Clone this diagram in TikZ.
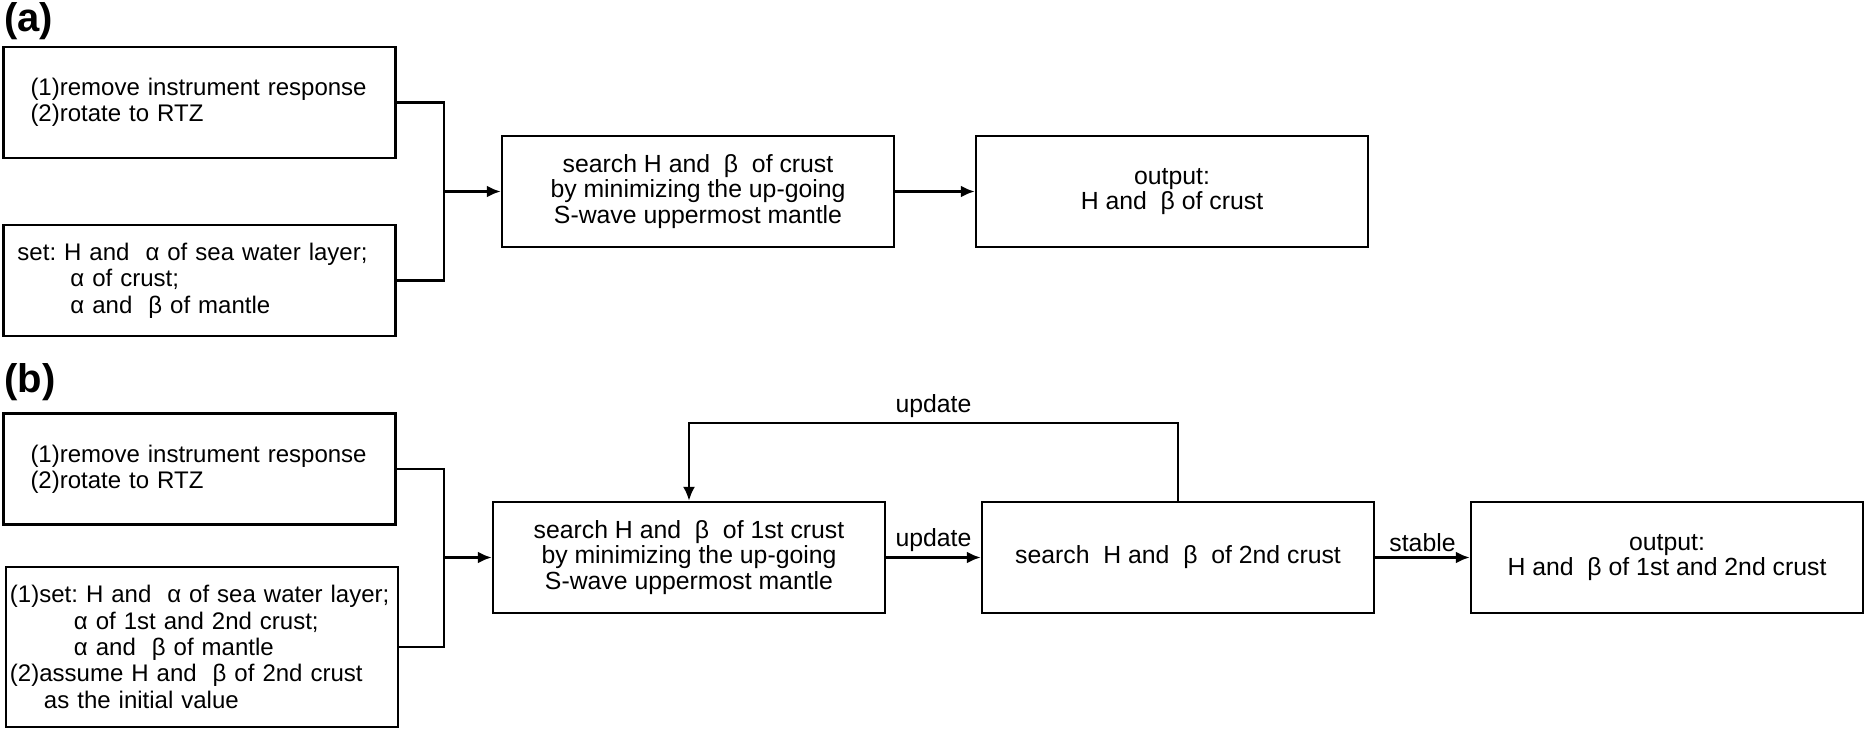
\documentclass[tikz,border=0pt]{standalone}
\usepackage{fontspec}
\setmainfont{Liberation Sans}
\usetikzlibrary{arrows.meta}
\frenchspacing

\begin{document}
\begin{tikzpicture}[x=0.5pt,y=-0.5pt,>={Latex[length=7pt,width=6pt]},
box/.style = {draw, line width=1.2pt, minimum width=196pt, minimum height=55.5pt, inner ysep=0pt, font=\fontsize{12}{13.2}\selectfont},
leftbox/.style = {box, align=left, inner xsep=13.5pt, text width=169pt},
midbox/.style = {box, align=center, font=\fontsize{12.4}{12.8}\selectfont},
flow/.style = {->, line width=1.5pt},
branch/.style = {line width=1.2pt},
tag/.style = {font=\fontsize{12.4}{13}\selectfont, inner sep=2pt},
panel/.style = {font=\fontsize{20}{20}\bfseries\selectfont, inner sep=0pt, anchor=north west},]
\useasboundingbox (0,0) rectangle (1867,731);
% (a)
\node[panel] (pa) at (4,2) {(a)};
\node[leftbox] (a1) at (199.5,102.5) {(1)remove instrument response\\(2)rotate to RTZ};
\node[leftbox, inner xsep=7pt, text width=182pt] (a2) at (199.5,280.5) {set: H and\ \ α of sea water layer;\\\hspace*{26.5pt}α of crust;\\\hspace*{26.5pt}α and\ \ β of mantle};
\node[midbox] (a3) at (698,191.5) {search H and\ \ β\ \ of crust\\by minimizing the up-going\\S-wave uppermost mantle};
\node[midbox] (a4) at (1172,191.5) {output:\\H and\ \ β of crust};
\coordinate (ja) at (444,191.5);
\draw[branch] (a1.east) -| (ja) |- (a2.east);
\draw[flow] (ja)--(a3);
\draw[flow] (a3)--(a4);
% (b)
\node[panel] (pb) at (4,363) {(b)};
\node[leftbox] (b1) at (199.5,469) {(1)remove instrument response\\(2)rotate to RTZ};
\node[leftbox, inner xsep=2pt, text width=192pt, minimum height=80pt] (b2) at (202,647) {(1)set: H and\ \ α of sea water layer;\\\hspace*{32pt}α of 1st and 2nd crust;\\\hspace*{32pt}α and\ \ β of mantle\\(2)assume H and\ \ β of 2nd crust\\\hspace*{17pt}as the initial value};
\node[midbox] (b3) at (689,557.5) {search H and\ \ β\ \ of 1st crust\\by minimizing the up-going\\S-wave uppermost mantle};
\node[midbox] (b4) at (1178,557.5) {search\ \ H and\ \ β\ \ of 2nd crust};
\node[midbox] (b5) at (1667,557.5) {output:\\H and\ \ β of 1st and 2nd crust};
\coordinate (jb) at (444,557.5);
\draw[branch] (b1.east) -| (jb) |- (b2.east);
\draw[flow] (jb)--(b3);
\draw[flow] (b3)--node[tag,above] {update}(b4);
\draw[flow] (b4)--node[tag,above] {stable}(b5);
\draw[branch,->] (b4.north)--++(0,-78) -| node[tag,above,pos=0.25] {update}(b3.north);
\end{tikzpicture}
\end{document}
